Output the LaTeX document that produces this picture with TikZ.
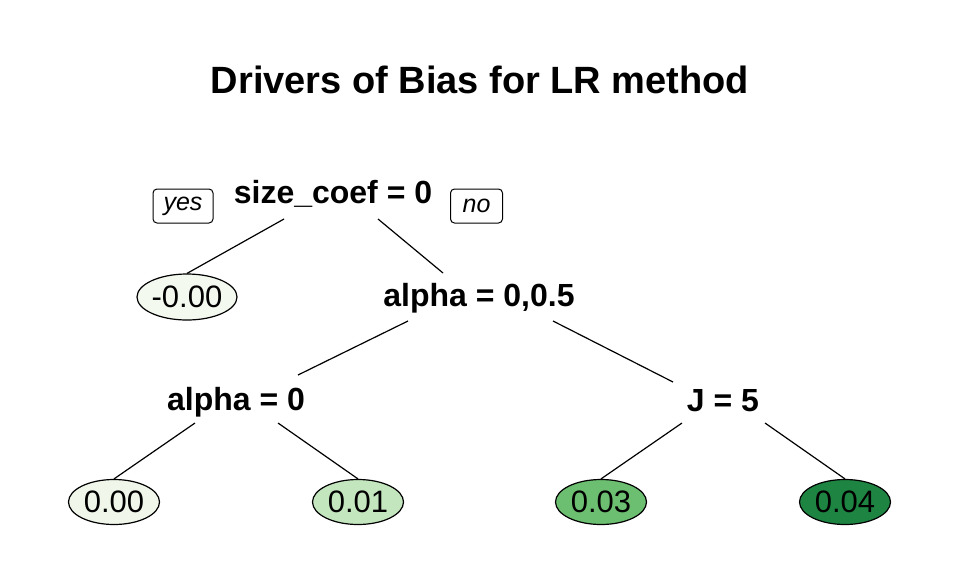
\documentclass[tikz,border=0pt]{standalone}
\usepackage{fontspec}
\setmainfont{Liberation Sans}
\usetikzlibrary{shapes.geometric,calc}

\definecolor{greenA}{HTML}{F3F9EF}
\definecolor{greenB}{HTML}{F0F7EA}
\definecolor{greenC}{HTML}{C4E6BF}
\definecolor{greenD}{HTML}{6CBF70}
\definecolor{greenE}{HTML}{1E8442}

\begin{document}
\begin{tikzpicture}[x=1pt,y=-1pt]
\useasboundingbox (0,0) rectangle (960,576);

\node[anchor=base,font=\bfseries\fontsize{38}{44}\selectfont] (title) at (480,93) {Drivers of Bias for LR method};

% split labels
\begin{scope}[every node/.style={anchor=base,inner sep=0pt,font=\bfseries\fontsize{32}{38}\selectfont}]
    \node (s1) at (333,203) {size\_coef = 0};
    \node (s2) at (479,306) {alpha = 0,0.5};
    \node (s3) at (236,410) {alpha = 0};
    \node (s4) at (723,411) {J = 5};
\end{scope}

\begin{scope}[every node/.style={draw,rounded corners=4pt,line width=1pt,minimum height=34pt,inner sep=0pt,font=\itshape\fontsize{25}{30}\selectfont}]
    \node[minimum width=60pt] (yes) at (183,206) {yes};
    \node[minimum width=52pt] (no) at (476.5,206) {no};
\end{scope}

% leaves
\begin{scope}[every node/.style={ellipse,draw,line width=1.2pt,inner sep=0pt,minimum width=91pt,minimum height=45pt,font=\fontsize{31}{36}\selectfont}]
    \node[fill=greenA,minimum width=100pt,minimum height=46pt] (l1) at (187,297) {-0.00};
    \node[fill=greenB] (l2) at (114,502) {0.00};
    \node[fill=greenC] (l3) at (358,502) {0.01};
    \node[fill=greenD] (l4) at (601,502) {0.03};
    \node[fill=greenE] (l5) at (845,502) {0.04};
\end{scope}

\begin{scope}[every edge/.style={draw=black,line width=1.2pt}]
    \path ($(s1.base)+(-49,16)$) edge (l1.north);
    \path ($(s1.base)+(45,16)$) edge ($(s2.base)+(-36,-33)$);
    \path ($(s2.base)+(-71,15)$) edge ($(s3.base)+(62,-35)$);
    \path ($(s2.base)+(74,15)$) edge ($(s4.base)+(-50,-29)$);
    \path ($(s3.base)+(-41,13)$) edge (l2.north);
    \path ($(s3.base)+(42,13)$) edge (l3.north);
    \path ($(s4.base)+(-41,12)$) edge (l4.north);
    \path ($(s4.base)+(42,12)$) edge (l5.north);
\end{scope}
\end{tikzpicture}
\end{document}
